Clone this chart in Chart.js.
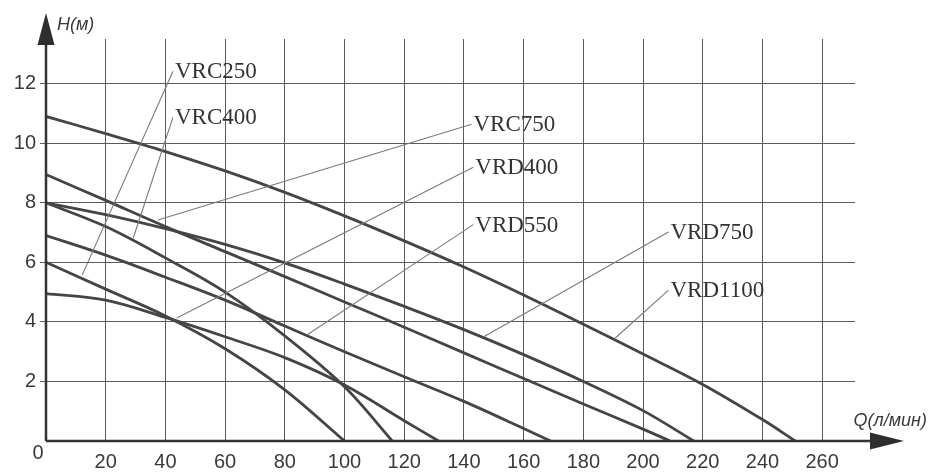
<!DOCTYPE html>
<html>
<head>
<meta charset="utf-8">
<script src="https://cdn.jsdelivr.net/npm/chart.js@4.4.1/dist/chart.umd.min.js"></script>
<style>
  html, body { margin: 0; padding: 0; background: #fff; }
  #wrap { width: 929px; height: 473px; }
</style>
</head>
<body>
<div id="wrap"><canvas id="pumpChart" width="929" height="473"></canvas></div>
<script>
// Q-H curves of the pumps (Q in l/min, H in m)
const models = ['VRC250', 'VRC400', 'VRC750', 'VRD400', 'VRD550', 'VRD750', 'VRD1100'];

const qVRC250 = [0, 20, 40, 60, 80, 100];
const hVRC250 = [6.0, 5.1, 4.2, 3.1, 1.72, 0];

const qVRC400 = [0, 20, 40, 60, 80, 100, 116];
const hVRC400 = [8.0, 7.2, 6.15, 5.0, 3.53, 1.82, 0];

const qVRC750 = [0, 20, 40, 60, 80, 100, 120, 140, 160, 180, 200, 209];
const hVRC750 = [8.95, 8.08, 7.2, 6.36, 5.52, 4.67, 3.82, 2.96, 2.1, 1.24, 0.4, 0];

const qVRD400 = [0, 20, 40, 60, 80, 100, 120, 131.5];
const hVRD400 = [4.95, 4.73, 4.15, 3.5, 2.8, 1.88, 0.68, 0];

const qVRD550 = [0, 20, 40, 60, 80, 100, 120, 140, 160, 169];
const hVRD550 = [6.9, 6.24, 5.5, 4.73, 3.86, 3.0, 2.16, 1.33, 0.42, 0];

const qVRD750 = [0, 20, 40, 60, 80, 100, 120, 140, 160, 180, 200, 217];
const hVRD750 = [8.0, 7.6, 7.13, 6.6, 5.98, 5.27, 4.52, 3.74, 2.9, 2.0, 1.02, 0];

const qVRD1100 = [0, 20, 40, 60, 80, 100, 120, 140, 160, 180, 200, 220, 240, 251];
const hVRD1100 = [10.9, 10.32, 9.72, 9.07, 8.35, 7.56, 6.72, 5.84, 4.9, 3.92, 2.92, 1.9, 0.72, 0];

const xTicks = [0, 20, 40, 60, 80, 100, 120, 140, 160, 180, 200, 220, 240, 260];
const yTicks = [0, 2, 4, 6, 8, 10, 12];

const curveQ = [qVRC250, qVRC400, qVRC750, qVRD400, qVRD550, qVRD750, qVRD1100];
const curveH = [hVRC250, hVRC400, hVRC750, hVRD400, hVRD550, hVRD750, hVRD1100];

// where each model name sits and where its pointer line touches the curve (axis units)
const callouts = {
    VRC250:  { text: [43.2, 12.45], tip: [12.1, 5.57] },
    VRC400:  { text: [43.2, 10.9],  tip: [29.2, 6.81] },
    VRC750:  { text: [143.2, 10.67], tip: [37.5, 7.42] },
    VRD400:  { text: [143.8, 9.23], tip: [43.8, 4.13] },
    VRD550:  { text: [143.8, 7.3],  tip: [87.4, 3.56] },
    VRD750:  { text: [209.2, 7.05], tip: [146.5, 3.49] },
    VRD1100: { text: [209.2, 5.1],  tip: [190.7, 3.46] }
};

const sans = "'Liberation Sans', Arial, sans-serif";
const serif = "'Liberation Serif', 'Times New Roman', serif";
const gridColor = '#5c5c5c';
const inkColor = '#3a3a3a';

const datasets = models.map((name, i) => ({
    label: name,
    data: curveQ[i].map((q, j) => ({ x: q, y: curveH[i][j] })),
    borderColor: '#454545',
    borderWidth: 2.8,
    pointRadius: 0,
    fill: false,
    tension: 0.35
}));

const sheetPlugin = {
    id: 'sheet',
    afterDraw(chart) {
        const ctx = chart.ctx;
        const xs = chart.scales.x, ys = chart.scales.y;
        const x0 = xs.getPixelForValue(0), y0 = ys.getPixelForValue(0);
        const top = chart.chartArea.top;
        ctx.save();

        // axes with arrow heads
        ctx.strokeStyle = '#333';
        ctx.fillStyle = '#2e2e2e';
        ctx.lineWidth = 2.5;
        ctx.beginPath();
        ctx.moveTo(x0, y0);
        ctx.lineTo(x0, top + 4);
        ctx.moveTo(x0, y0);
        ctx.lineTo(chart.chartArea.right + 17, y0);
        ctx.stroke();

        ctx.beginPath();
        ctx.moveTo(x0, top - 26);
        ctx.lineTo(x0 - 8.5, top + 6);
        ctx.lineTo(x0 + 8.5, top + 6);
        ctx.closePath();
        ctx.fill();

        const ax = chart.chartArea.right + 15;
        ctx.beginPath();
        ctx.moveTo(ax + 34, y0);
        ctx.lineTo(ax, y0 - 8.5);
        ctx.lineTo(ax, y0 + 8.5);
        ctx.closePath();
        ctx.fill();

        // axis titles and origin
        ctx.fillStyle = inkColor;
        ctx.font = 'italic 18px ' + sans;
        ctx.textBaseline = 'middle';
        ctx.textAlign = 'left';
        ctx.fillText('H(м)', x0 + 11, top - 14);
        ctx.textAlign = 'right';
        ctx.fillText('Q(л/мин)', chart.width - 2, y0 - 20);
        ctx.font = '20px ' + sans;
        ctx.textAlign = 'center';
        ctx.fillText('0', x0 - 8, y0 + 12);

        // model names with pointer lines
        ctx.font = '23px ' + serif;
        ctx.textAlign = 'left';
        ctx.textBaseline = 'alphabetic';
        Object.keys(callouts).forEach(name => {
            const c = callouts[name];
            const tx = xs.getPixelForValue(c.text[0]);
            const ty = ys.getPixelForValue(c.text[1]);
            const px = xs.getPixelForValue(c.tip[0]);
            const py = ys.getPixelForValue(c.tip[1]);
            ctx.strokeStyle = '#7a7a7a';
            ctx.lineWidth = 1.1;
            ctx.beginPath();
            ctx.moveTo(tx - 2, ty + 1);
            ctx.lineTo(px, py);
            ctx.stroke();
            ctx.fillStyle = '#333';
            ctx.fillText(name, tx, ty + 8);
        });
        ctx.restore();
    }
};

new Chart(document.getElementById('pumpChart').getContext('2d'), {
    type: 'line',
    data: { datasets: datasets },
    options: {
        responsive: false,
        animation: false,
        layout: { padding: { top: 39, right: 74, left: 0, bottom: 0 } },
        plugins: { legend: { display: false }, tooltip: { enabled: false } },
        scales: {
            x: {
                type: 'linear',
                min: 0,
                max: 271,
                afterBuildTicks: axis => { axis.ticks = xTicks.map(v => ({ value: v })); },
                afterFit: scale => { scale.height = 32; },
                border: { display: false },
                grid: {
                    color: c => (c.tick && c.tick.value === 0 ? 'rgba(0,0,0,0)' : gridColor),
                    lineWidth: 1,
                    drawTicks: false
                },
                ticks: {
                    autoSkip: false,
                    maxRotation: 0,
                    padding: 9,
                    color: inkColor,
                    font: { family: sans, size: 20 },
                    callback: v => (v === 0 ? '' : v)
                }
            },
            y: {
                type: 'linear',
                min: 0,
                max: 13.5,
                afterBuildTicks: axis => { axis.ticks = yTicks.map(v => ({ value: v })); },
                afterFit: scale => { scale.width = 46; },
                border: { display: false },
                grid: {
                    color: c => (c.tick && c.tick.value === 0 ? 'rgba(0,0,0,0)' : gridColor),
                    lineWidth: 1,
                    drawTicks: true,
                    tickLength: 6
                },
                ticks: {
                    padding: 4,
                    color: inkColor,
                    font: { family: sans, size: 20 },
                    callback: v => (v === 0 ? '' : v)
                }
            }
        }
    },
    plugins: [sheetPlugin]
});
</script>
</body>
</html>
